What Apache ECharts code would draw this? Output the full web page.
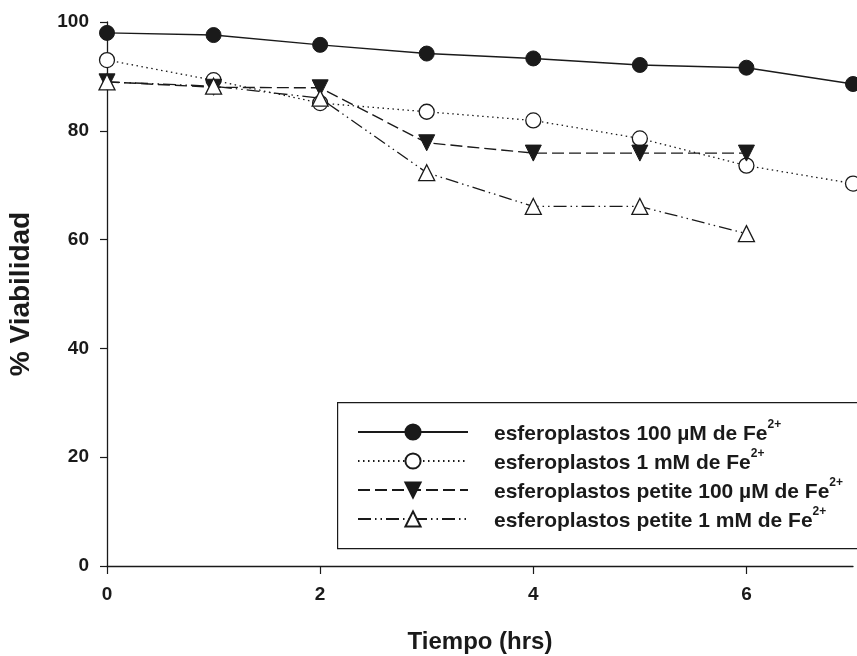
<!DOCTYPE html>
<html><head><meta charset="utf-8">
<script src="https://cdn.jsdelivr.net/npm/echarts@6/dist/echarts.min.js"></script>
<style>html,body{margin:0;padding:0;background:#fff}#c{width:857px;height:656px}</style>
</head><body><div id="c"></div>
<script>
const hours = [0, 1, 2, 3, 4, 5, 6, 7];
const names = [
  'esferoplastos 100 µM de Fe',
  'esferoplastos 1 mM de Fe',
  'esferoplastos petite 100 µM de Fe',
  'esferoplastos petite 1 mM de Fe'
];
const s100uM = [98.0, 97.6, 95.8, 94.2, 93.3, 92.1, 91.6, 88.6];
const s1mM = [93.0, 89.3, 85.1, 83.5, 81.9, 78.6, 73.6, 70.3];
const petite100uM = [89.0, 88.0, 87.9, 77.8, 75.9, 75.9, 75.9];
const petite1mM = [89.0, 88.2, 86.0, 72.3, 66.1, 66.1, 61.1];
const xTicks = [0, 2, 4, 6];

const FONT = 'Liberation Sans, Arial, sans-serif';
const INK = '#1a1a1a';
function pairs(v){ return v.map((y,i)=>[hours[i], y]); }

const chart = echarts.init(document.getElementById('c'));
chart.setOption({
  animation: false,
  backgroundColor: '#fff',
  grid: {left: 107, right: 4, top: 22, bottom: 90, containLabel: false, outerBoundsMode: 'none'},
  xAxis: {
    type: 'value', min: 0, max: 7, interval: 1,
    name: 'Tiempo (hrs)', nameLocation: 'middle', nameGap: 64,
    nameTextStyle: {fontFamily: FONT, fontWeight: 'bold', fontSize: 24, color: INK},
    axisLine: {show: true, lineStyle: {color: INK, width: 1.3}},
    axisTick: {show: true, length: 8, inside: false, customValues: xTicks, lineStyle: {color: INK, width: 1.2}},
    axisLabel: {customValues: xTicks, margin: 19, fontFamily: FONT, fontWeight: 'bold', fontSize: 19, color: INK},
    splitLine: {show: false}
  },
  yAxis: {
    type: 'value', min: 0, max: 100, interval: 20,
    name: '% Viabilidad', nameLocation: 'middle', nameGap: 72, nameRotate: 90,
    nameTextStyle: {fontFamily: FONT, fontWeight: 'bold', fontSize: 28, color: INK},
    axisLine: {show: true, lineStyle: {color: INK, width: 1.3}},
    axisTick: {show: true, length: 7, lineStyle: {color: INK, width: 1.2}},
    axisLabel: {margin: 18, fontFamily: FONT, fontWeight: 'bold', fontSize: 19, color: INK},
    splitLine: {show: false}
  },
  graphic: [{
    type: 'rect', left: 337, top: 402, z: 1,
    shape: {width: 540, height: 146},
    style: {fill: '#fff', stroke: INK, lineWidth: 1.2}
  }],
  legend: {
    orient: 'vertical', left: 352, top: 414, z: 5,
    itemWidth: 110, itemHeight: 19, itemGap: 3,
    data: names,
    formatter: n => '{b|' + n + '}{s|2+}',
    textStyle: {
      padding: [0, 0, 0, 21],
      rich: {
        b: {fontFamily: FONT, fontWeight: 'bold', fontSize: 21, color: INK, lineHeight: 26, verticalAlign: 'bottom'},
        s: {fontFamily: FONT, fontWeight: 'bold', fontSize: 12, color: INK, lineHeight: 22, verticalAlign: 'top'}
      }
    }
  },
  series: [
    {name: names[0], type: 'line', data: pairs(s100uM), symbol: 'circle', symbolSize: 15,
     itemStyle: {color: INK, borderColor: INK, borderWidth: 1},
     lineStyle: {color: INK, width: 1.4, type: 'solid'}, z: 4},
    {name: names[1], type: 'line', data: pairs(s1mM), symbol: 'circle', symbolSize: 15,
     itemStyle: {color: '#fff', borderColor: INK, borderWidth: 1.3},
     lineStyle: {color: INK, width: 1.3, type: [1.5, 3.5]}, z: 3},
    {name: names[2], type: 'line', data: pairs(petite100uM), symbol: 'triangle', symbolRotate: 180, symbolSize: 16,
     itemStyle: {color: INK, borderColor: INK, borderWidth: 1},
     lineStyle: {color: INK, width: 1.4, type: [12, 5]}, z: 3},
    {name: names[3], type: 'line', data: pairs(petite1mM), symbol: 'triangle', symbolSize: 16,
     itemStyle: {color: '#fff', borderColor: INK, borderWidth: 1.3},
     lineStyle: {color: INK, width: 1.3, type: [13, 4, 1.5, 4, 1.5, 4]}, z: 3}
  ]
});
</script></body></html>
